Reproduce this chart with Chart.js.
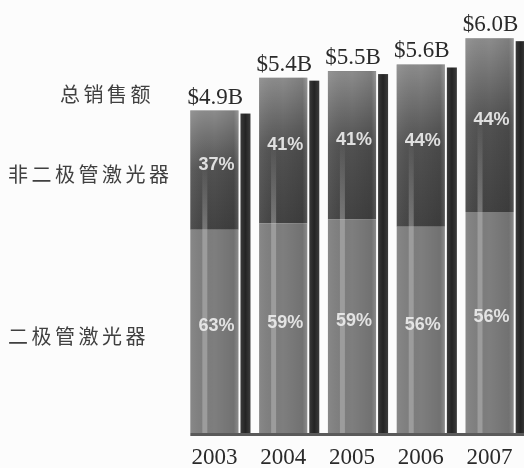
<!DOCTYPE html>
<html>
<head>
<meta charset="utf-8">
<script src="https://cdn.jsdelivr.net/npm/chart.js@4.4.1/dist/chart.umd.min.js"></script>
<style>
  html, body { margin: 0; padding: 0; background: #fcfcfc; }
  #wrap { width: 524px; height: 468px; position: relative; }
</style>
</head>
<body>
<div id="wrap"><canvas id="laserChart"></canvas></div>
<script>
// laser market sales by year
const years = ['2003', '2004', '2005', '2006', '2007'];
const totals = [4.9, 5.4, 5.5, 5.6, 6.0];
const diodePct = [63, 59, 59, 56, 56];
const nonDiodePct = [37, 41, 41, 44, 44];
const rowLabels = ['总销售额', '非二极管激光器', '二极管激光器'];

const diodeSales = totals.map((t, i) => t * diodePct[i] / 100);
const nonDiodeSales = totals.map((t, i) => t * nonDiodePct[i] / 100);

// shading, side strips and all the text
const barDecor = {
  id: 'barDecor',
  afterDatasetsDraw(chart) {
    const ctx = chart.ctx;
    const lowMeta = chart.getDatasetMeta(0);
    const upMeta = chart.getDatasetMeta(1);
    const base = chart.scales.y.getPixelForValue(0);

    lowMeta.data.forEach(function(low, i) {
      const up = upMeta.data[i];
      const w = low.width;
      const left = low.x - w / 2;
      const right = low.x + w / 2;
      const top = up.y;
      const mid = up.base;

      ctx.save();
      // lighter top of the upper segment
      let g = ctx.createLinearGradient(0, top, 0, mid);
      g.addColorStop(0, 'rgba(255,255,255,0.38)');
      g.addColorStop(0.5, 'rgba(255,255,255,0.06)');
      g.addColorStop(1, 'rgba(0,0,0,0.06)');
      ctx.fillStyle = g;
      ctx.fillRect(left, top, w, mid - top);

      // horizontal shading over the whole front
      g = ctx.createLinearGradient(left, 0, right, 0);
      g.addColorStop(0, 'rgba(255,255,255,0.08)');
      g.addColorStop(0.5, 'rgba(0,0,0,0)');
      g.addColorStop(0.9, 'rgba(0,0,0,0.10)');
      g.addColorStop(1, 'rgba(255,255,255,0.10)');
      ctx.fillStyle = g;
      ctx.fillRect(left, top, w, base - top);

      // light vertical stripe
      ctx.fillStyle = 'rgba(255,255,255,0.24)';
      ctx.fillRect(left + 12, mid, 5, base - mid);
      const stripeH = (mid - top) * 0.55;
      g = ctx.createLinearGradient(0, mid, 0, mid - stripeH);
      g.addColorStop(0, 'rgba(255,255,255,0.28)');
      g.addColorStop(1, 'rgba(255,255,255,0)');
      ctx.fillStyle = g;
      ctx.fillRect(left + 12, mid - stripeH, 5, stripeH);

      // dark side strip
      g = ctx.createLinearGradient(right + 2, 0, right + 12, 0);
      g.addColorStop(0, '#3a3a3a');
      g.addColorStop(0.5, '#242424');
      g.addColorStop(1, '#3c3c3c');
      ctx.fillStyle = g;
      ctx.fillRect(right + 2, top + 3, 10, base - top - 3);

      // percentages
      ctx.fillStyle = 'rgba(236,236,236,0.92)';
      ctx.font = 'bold 18px "Liberation Sans", Arial, sans-serif';
      ctx.textAlign = 'center';
      ctx.textBaseline = 'middle';
      ctx.fillText(nonDiodePct[i] + '%', low.x + 2, (top + mid) / 2 - 5);
      ctx.fillText(diodePct[i] + '%', low.x + 2, (mid + base) / 2 - 5);

      // totals above the bars
      ctx.fillStyle = '#2a2a2a';
      ctx.font = '23px "Liberation Serif", "Times New Roman", serif';
      ctx.textBaseline = 'alphabetic';
      ctx.fillText('$' + totals[i].toFixed(1) + 'B', low.x + 1, top - 7);

      // year under the bar
      ctx.textBaseline = 'middle';
      ctx.fillText(years[i], low.x, 458);
      ctx.restore();
    });

    // base line
    const first = lowMeta.data[0];
    ctx.save();
    ctx.strokeStyle = '#5a5a5a';
    ctx.lineWidth = 3;
    ctx.beginPath();
    ctx.moveTo(first.x - first.width / 2, base + 1.5);
    ctx.lineTo(chart.width, base + 1.5);
    ctx.stroke();

    // row captions on the left
    ctx.fillStyle = '#404040';
    ctx.font = '20px "Noto Sans CJK SC", sans-serif';
    ctx.letterSpacing = '3.5px';
    ctx.textAlign = 'left';
    ctx.textBaseline = 'middle';
    ctx.fillText(rowLabels[0], 60, 94);
    ctx.fillText(rowLabels[1], 8, 174);
    ctx.fillText(rowLabels[2], 8, 336);
    ctx.restore();
  }
};

const ctx = document.getElementById('laserChart').getContext('2d');
const laserChart = new Chart(ctx, {
  type: 'bar',
  data: {
    labels: years,
    datasets: [{
      label: rowLabels[2],
      data: diodeSales,
      backgroundColor: '#7e7e7e',
      barPercentage: 0.7,
      categoryPercentage: 1.0
    }, {
      label: rowLabels[1],
      data: nonDiodeSales,
      backgroundColor: '#464646',
      barPercentage: 0.7,
      categoryPercentage: 1.0
    }]
  },
  options: {
    responsive: true,
    maintainAspectRatio: false,
    animation: false,
    layout: { padding: { left: 180, right: 0, top: 0, bottom: 35 } },
    plugins: {
      legend: { display: false },
      tooltip: { enabled: false }
    },
    scales: {
      x: { stacked: true, display: false },
      y: { stacked: true, display: false, min: 0, max: 6.58 }
    }
  },
  plugins: [barDecor]
});
</script>
</body>
</html>
